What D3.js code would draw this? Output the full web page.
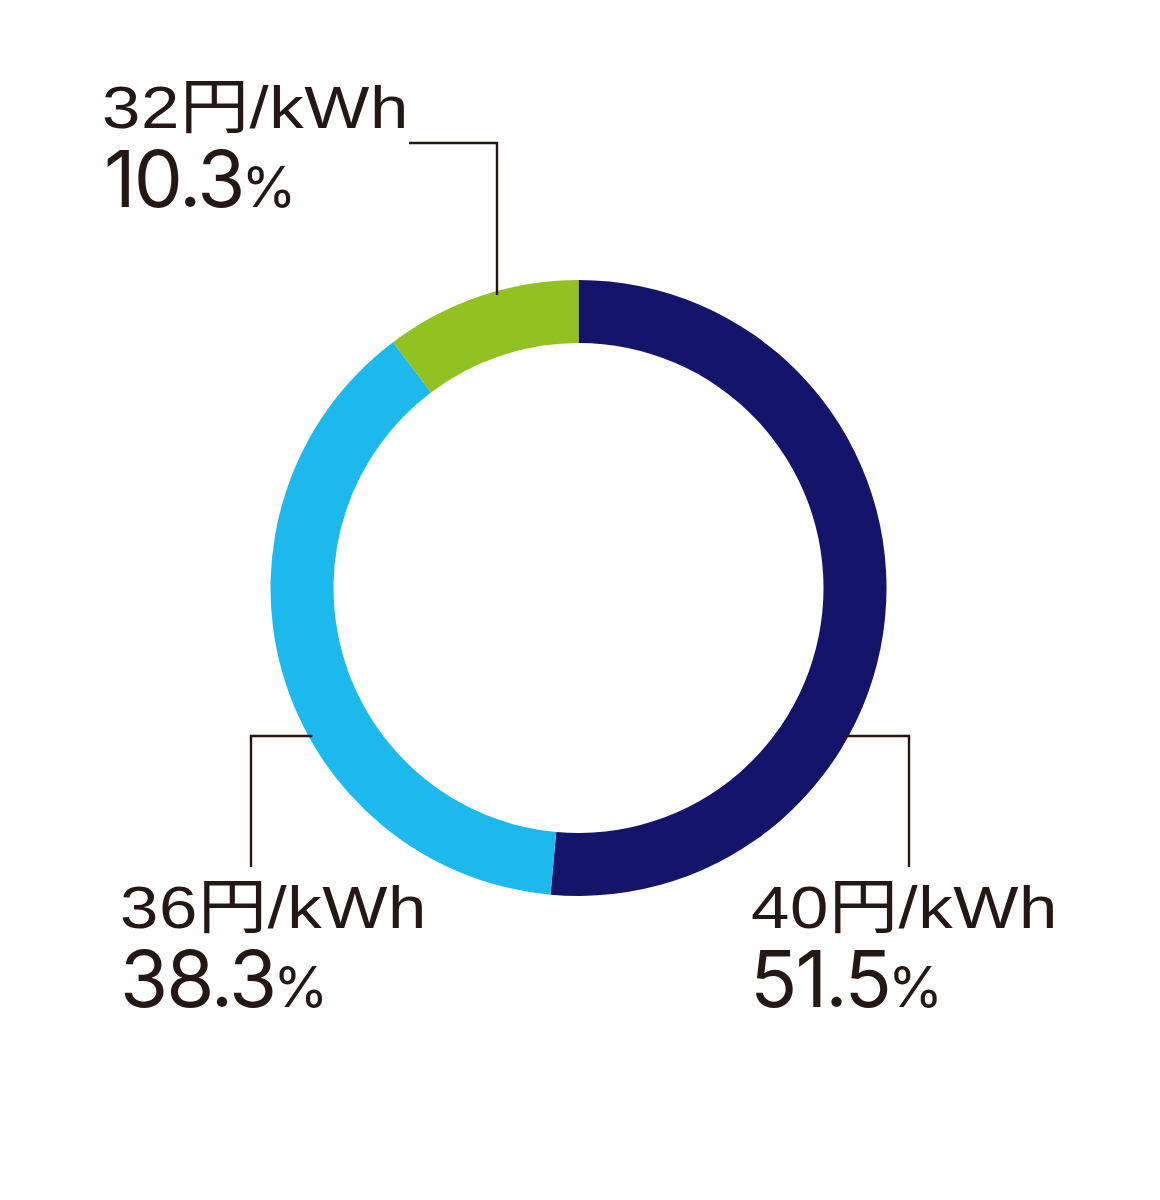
<!DOCTYPE html>
<html><head><meta charset="utf-8">
<script src="https://cdn.jsdelivr.net/npm/d3@7"></script>
<style>html,body{margin:0;padding:0;background:#fff}svg{display:block}</style>
</head><body>
<svg id="chart" width="1160" height="1200"></svg>
<script>
// ---- data ----
const categories = ["40円/kWh", "36円/kWh", "32円/kWh"];
const shares = [51.5, 38.3, 10.3];
const shareLabels = ["51.5", "38.3", "10.3"];
const colors = ["#13146a", "#1db9ed", "#91c123"];

// ---- layout ----
const cx = 578.5, cy = 588, R = 308, r = 245;
const ink = "#231815";
const latin = "'Liberation Sans', Arial, 'Noto Sans CJK JP', sans-serif";
const pctFont = "Inter, 'Liberation Sans', Arial, sans-serif";
const sx = 1.15; // horizontal glyph stretch to mimic the wide face

const svg = d3.select("#chart");
const g = svg.append("g").attr("transform", `translate(${cx},${cy})`);

const pie = d3.pie().sort(null).value(d => d).startAngle(0).endAngle(2 * Math.PI);
const arcs = pie(shares);
const arc = d3.arc().innerRadius(r).outerRadius(R);

// leader / label layout per slice (in chart coordinates)
const layout = [
  { side: "right", y: 736, elbowX: 909, endY: 867, tx1: 751, tx2: 750, ty1: 928, ty2: 1007 },
  { side: "left",  y: 736, elbowX: 251, endY: 867, tx1: 120, tx2: 120, ty1: 928, ty2: 1007 },
  { side: "top",   x: 497, elbowY: 143, endX: 409, tx1: 102, tx2: 104, ty1: 128, ty2: 207 }
];

const lines = svg.append("g").attr("fill", "none").attr("stroke", ink).attr("stroke-width", 2.4);
layout.forEach(L => {
  let pts;
  if (L.side === "top") {
    const dx = L.x - cx;
    const ay = cy - Math.sqrt(R * R - dx * dx) + 4;
    pts = [[L.x, ay], [L.x, L.elbowY], [L.endX, L.elbowY]];
  } else {
    const dy = L.y - cy;
    const off = Math.sqrt(R * R - dy * dy) - 4;
    const ax = L.side === "right" ? cx + off : cx - off;
    pts = [[ax, L.y], [L.elbowX, L.y], [L.elbowX, L.endY]];
  }
  lines.append("path").attr("d", d3.line()(pts)).attr("stroke-linejoin", "miter").attr("stroke-linecap", "butt");
});

g.selectAll("path.slice").data(arcs).join("path")
  .attr("class", "slice")
  .attr("d", arc)
  .attr("fill", (d, i) => colors[i]);

// labels
layout.forEach((L, i) => {
  svg.append("text")
    .attr("transform", `translate(${L.tx1},${L.ty1}) scale(${sx},1)`)
    .attr("fill", ink)
    .attr("font-family", latin)
    .attr("font-size", 60)
    .attr("letter-spacing", 0.5)
    .text(categories[i]);
  const t2 = svg.append("text")
    .attr("transform", `translate(${L.tx2},${L.ty2})`)
    .attr("fill", ink)
    .attr("font-family", pctFont)
    .attr("letter-spacing", -2);
  t2.append("tspan").attr("font-size", 78).text(shareLabels[i]);
  t2.append("tspan").attr("font-size", 56).attr("dx", -2).text("%");
});
</script>
</body></html>
